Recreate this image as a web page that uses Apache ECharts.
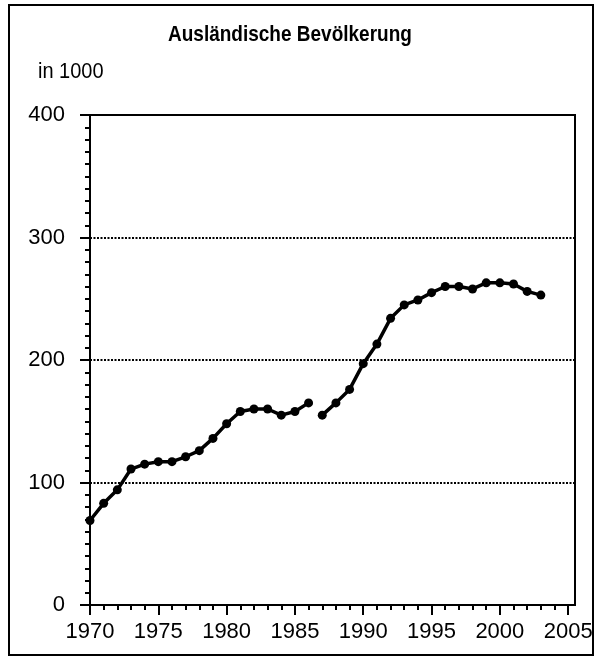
<!DOCTYPE html>
<html>
<head>
<meta charset="utf-8">
<script src="https://cdn.jsdelivr.net/npm/echarts@6/dist/echarts.min.js"></script>
<style>
    html, body { margin: 0; padding: 0; background: #fff; }
    #chart { width: 600px; height: 657px; }
</style>
</head>
<body>
<div id="chart"></div>
<script>
// data (in 1000)
const years1 = [1970, 1971, 1972, 1973, 1974, 1975, 1976, 1977, 1978, 1979, 1980, 1981, 1982, 1983, 1984, 1985, 1986];
const values1 = [69, 83, 94, 111, 115, 117, 117, 121, 126, 136, 148, 158, 160, 160, 155, 158, 165];
const years2 = [1987, 1988, 1989, 1990, 1991, 1992, 1993, 1994, 1995, 1996, 1997, 1998, 1999, 2000, 2001, 2002, 2003];
const values2 = [155, 165, 176, 197, 213, 234, 245, 249, 255, 260, 260, 258, 263, 263, 262, 256, 253];

const xLabels = [1970, 1975, 1980, 1985, 1990, 1995, 2000, 2005];
const xMinorTicks = [];
for (let y = 1970; y <= 2005; y++) xMinorTicks.push(y);

const font = '"Liberation Sans", Arial, sans-serif';

function pairs(xs, ys) {
    return xs.map((x, i) => [x, ys[i]]);
}

const chartDom = document.getElementById('chart');
const chart = echarts.init(chartDom, null, { renderer: 'canvas' });

const lineSeries = (data) => ({
    type: 'line',
    xAxisIndex: 0,
    data: data,
    symbol: 'circle',
    symbolSize: 9,
    showSymbol: true,
    lineStyle: { color: '#000', width: 3.5 },
    itemStyle: { color: '#000' },
    animation: false
});

const option = {
    animation: false,
    backgroundColor: '#fff',
    grid: {
        left: 90,
        top: 115,
        right: 25,
        bottom: 52,
        show: true,
        borderColor: '#000',
        borderWidth: 2,
        containLabel: false
    },
    xAxis: [
        {
            type: 'value',
            position: 'bottom',
            min: 1970,
            max: 2005.5,
            interval: 5,
            axisLine: { show: true, onZero: false, lineStyle: { color: '#000', width: 2 } },
            axisTick: { show: true, length: 10, customValues: xLabels, lineStyle: { color: '#000', width: 2 } },
            axisLabel: {
                customValues: xLabels,
                margin: 16,
                color: '#000',
                fontFamily: font,
                fontSize: 22,
                formatter: (v) => String(v)
            },
            splitLine: { show: false }
        },
        {
            type: 'value',
            position: 'bottom',
            min: 1970,
            max: 2005.5,
            axisLine: { show: false, onZero: false },
            axisTick: { show: true, length: 5, customValues: xMinorTicks, lineStyle: { color: '#000', width: 2 } },
            axisLabel: { show: false },
            splitLine: { show: false }
        }
    ],
    yAxis: {
        type: 'value',
        min: 0,
        max: 400,
        interval: 100,
        axisLine: { show: true, lineStyle: { color: '#000', width: 2 } },
        axisTick: { show: true, length: 10, lineStyle: { color: '#000', width: 2 } },
        minorTick: { show: true, splitNumber: 10, length: 5, lineStyle: { color: '#000', width: 2 } },
        axisLabel: { margin: 25, color: '#000', fontFamily: font, fontSize: 22 },
        splitLine: { show: true, lineStyle: { color: '#000', width: 2, type: [2, 1.5] } }
    },
    series: [
        lineSeries(pairs(years1, values1)),
        lineSeries(pairs(years2, values2))
    ],
    graphic: [
        {
            // title, stretched a bit in height like the original
            type: 'text',
            x: 168,
            y: 24,
            scaleY: 1.18,
            style: {
                text: 'Ausländische Bevölkerung',
                font: 'bold 19px "Liberation Sans", Arial, sans-serif',
                fill: '#000',
                verticalAlign: 'top'
            }
        },
        {
            type: 'text',
            x: 38,
            y: 61,
            scaleY: 1.12,
            style: {
                text: 'in 1000',
                font: '20px "Liberation Sans", Arial, sans-serif',
                fill: '#000',
                verticalAlign: 'top'
            }
        },
        {
            type: 'rect',
            shape: { x: 9, y: 5, width: 584, height: 650 },
            style: { fill: null, stroke: '#000', lineWidth: 2 },
            silent: true
        }
    ]
};

chart.setOption(option);
</script>
</body>
</html>
